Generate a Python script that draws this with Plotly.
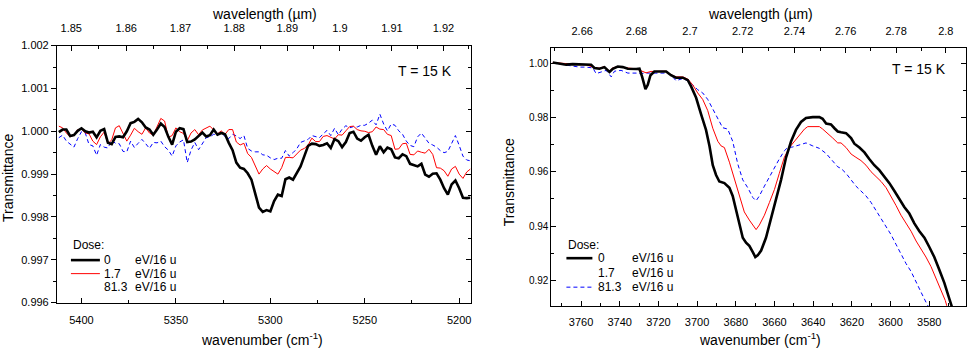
import plotly.graph_objects as go

FONT = "Liberation Sans, Arial, Helvetica, sans-serif"
W, H = 968, 355

# ---------------- left panel : 5413 - 5194 cm-1 ----------------
wn_left = list(range(5412, 5192, -2))

t_left_0 = [
    0.99998, 1.00004, 1.00004, 0.99989, 0.99991, 1.00001, 1.00007, 1.00000, 0.99997, 0.99999,
    0.99986, 1.00001, 1.00005, 0.99973, 0.99970, 0.99987, 0.99988, 0.99986, 1.00000, 1.00019,
    1.00022, 1.00029, 1.00021, 1.00009, 1.00004, 0.99992, 1.00004, 1.00018, 1.00010, 0.99987,
    0.99969, 0.99999, 1.00007, 1.00005, 0.99975, 0.99976, 0.99981, 0.99990, 0.99997, 0.99988,
    0.99991, 1.00004, 0.99992, 0.99996, 0.99993, 0.99973, 0.99956, 0.99927, 0.99915, 0.99912,
    0.99902, 0.99887, 0.99854, 0.99822, 0.99812, 0.99816, 0.99813, 0.99837, 0.99852, 0.99849,
    0.99888, 0.99892, 0.99887, 0.99901, 0.99918, 0.99942, 0.99966, 0.99971, 0.99970, 0.99966,
    0.99968, 0.99972, 0.99961, 0.99982, 0.99977, 0.99963, 0.99975, 0.99996, 0.99999, 0.99983,
    0.99978, 0.99986, 0.99992, 0.99966, 0.99945, 0.99965, 0.99951, 0.99962, 0.99958, 0.99939,
    0.99937, 0.99946, 0.99942, 0.99924, 0.99921, 0.99918, 0.99924, 0.99899, 0.99894, 0.99901,
    0.99902, 0.99887, 0.99867, 0.99852, 0.99876, 0.99885, 0.99867, 0.99845, 0.99844, 0.99845,
]

t_left_17 = [
    1.00012, 1.00008, 0.99996, 0.99987, 0.99991, 1.00004, 1.00005, 0.99996, 0.99994, 0.99977,
    0.99969, 0.99987, 0.99998, 0.99971, 0.99980, 1.00008, 1.00013, 0.99993, 0.99977, 0.99991,
    1.00007, 0.99999, 0.99993, 1.00008, 0.99996, 0.99991, 1.00012, 1.00030, 1.00024, 0.99986,
    0.99990, 1.00008, 0.99999, 0.99995, 0.99978, 0.99996, 1.00004, 0.99992, 1.00003, 1.00007,
    1.00012, 1.00003, 0.99994, 1.00001, 0.99993, 1.00004, 1.00004, 0.99975, 0.99968, 0.99972,
    0.99948, 0.99939, 0.99918, 0.99900, 0.99912, 0.99920, 0.99912, 0.99906, 0.99900, 0.99915,
    0.99939, 0.99939, 0.99938, 0.99947, 0.99956, 0.99960, 0.99968, 0.99984, 0.99976, 0.99976,
    0.99988, 0.99990, 0.99986, 0.99982, 0.99992, 0.99991, 1.00001, 1.00011, 1.00012, 1.00004,
    1.00001, 1.00000, 0.99997, 0.99999, 1.00010, 1.00005, 1.00004, 0.99993, 0.99990, 0.99958,
    0.99959, 0.99971, 0.99972, 0.99946, 0.99945, 0.99954, 0.99951, 0.99949, 0.99958, 0.99946,
    0.99915, 0.99914, 0.99908, 0.99895, 0.99912, 0.99918, 0.99900, 0.99890, 0.99905, 0.99912,
]

t_left_813 = [
    0.99985, 0.99991, 0.99977, 0.99970, 0.99963, 0.99983, 0.99999, 0.99996, 0.99969, 0.99966,
    0.99944, 0.99969, 0.99963, 0.99961, 0.99979, 0.99972, 0.99971, 0.99953, 0.99952, 0.99977,
    0.99962, 0.99972, 0.99981, 0.99971, 0.99960, 0.99974, 0.99973, 0.99977, 0.99964, 0.99956,
    0.99942, 0.99966, 0.99975, 0.99980, 0.99927, 0.99956, 0.99974, 0.99957, 0.99972, 0.99985,
    0.99987, 0.99993, 0.99991, 0.99999, 0.99987, 0.99983, 0.99993, 0.99989, 0.99983, 0.99990,
    0.99960, 0.99954, 0.99952, 0.99952, 0.99945, 0.99944, 0.99938, 0.99934, 0.99937, 0.99937,
    0.99955, 0.99942, 0.99950, 0.99959, 0.99974, 0.99977, 0.99981, 0.99990, 0.99988, 0.99985,
    0.99994, 1.00002, 0.99990, 1.00007, 0.99992, 1.00005, 1.00013, 1.00008, 1.00011, 1.00010,
    1.00014, 1.00014, 1.00019, 1.00026, 1.00015, 1.00040, 1.00017, 1.00001, 1.00017, 1.00014,
    1.00001, 0.99993, 0.99977, 0.99967, 0.99964, 0.99987, 0.99996, 0.99984, 0.99972, 0.99968,
    0.99963, 0.99955, 0.99950, 0.99953, 0.99971, 0.99990, 0.99967, 0.99942, 0.99933, 0.99931,
]

# ---------------- right panel : 3775 - 3561 cm-1 ----------------
wn_right_0 = [
    3774.6, 3771.2, 3767.7, 3764.3, 3760.8, 3757.4, 3754.8, 3753.1, 3750.5, 3747.9,
    3745.3, 3743.6, 3741.0, 3738.4, 3735.8, 3731.5, 3729.8, 3728.4, 3726.7, 3725.5,
    3724.1, 3722.1, 3719.5, 3716.0, 3713.5, 3710.9, 3707.4, 3704.8, 3703.1, 3700.5,
    3698.0, 3695.4, 3693.6, 3691.9, 3690.2, 3688.5, 3685.9, 3683.3, 3681.6, 3679.9,
    3678.1, 3676.4, 3674.7, 3673.0, 3671.2, 3669.9, 3668.7, 3666.9, 3664.4, 3661.8,
    3659.2, 3656.6, 3654.0, 3651.4, 3648.9, 3646.3, 3643.7, 3640.2, 3636.8, 3635.1,
    3633.3, 3630.8, 3629.0, 3627.3, 3625.6, 3623.0, 3620.4, 3618.7, 3616.1, 3613.5,
    3611.0, 3608.4, 3605.8, 3603.2, 3600.6, 3598.0, 3595.4, 3592.9, 3590.3, 3587.7,
    3585.1, 3582.5, 3579.9, 3577.4, 3574.8, 3572.2, 3569.6, 3568.4, 3567.5,
]
t_right_0 = [
    1.0002, 0.9999, 0.9994, 0.9996, 0.9996, 0.9996, 0.9994, 0.9982, 0.9979, 0.9985,
    0.9967, 0.9979, 0.9987, 0.9985, 0.9979, 0.9978, 0.9979, 0.9949, 0.9904, 0.9920,
    0.9955, 0.9969, 0.9970, 0.9969, 0.9955, 0.9946, 0.9946, 0.9937, 0.9914, 0.9872,
    0.9813, 0.9754, 0.9695, 0.9624, 0.9588, 0.9564, 0.9558, 0.9541, 0.9511, 0.9464,
    0.9404, 0.9357, 0.9339, 0.9327, 0.9304, 0.9286, 0.9292, 0.9310, 0.9357, 0.9428,
    0.9499, 0.9570, 0.9653, 0.9712, 0.9754, 0.9783, 0.9798, 0.9801, 0.9801, 0.9795,
    0.9777, 0.9774, 0.9760, 0.9748, 0.9745, 0.9742, 0.9724, 0.9703, 0.9689, 0.9671,
    0.9647, 0.9624, 0.9606, 0.9584, 0.9558, 0.9529, 0.9499, 0.9470, 0.9446, 0.9410,
    0.9381, 0.9357, 0.9322, 0.9286, 0.9239, 0.9191, 0.9132, 0.9108, 0.9085,
]

wn_right_17 = [
    3774.6, 3771.2, 3767.7, 3764.3, 3760.8, 3757.4, 3753.9, 3750.5, 3747.9, 3745.3,
    3743.6, 3741.0, 3736.7, 3731.5, 3729.0, 3726.4, 3723.8, 3719.5, 3716.0, 3713.5,
    3710.9, 3707.4, 3704.8, 3702.3, 3699.7, 3697.1, 3694.5, 3691.9, 3689.3, 3687.6,
    3685.9, 3683.3, 3680.7, 3678.1, 3675.6, 3673.0, 3670.4, 3669.5, 3667.8, 3665.2,
    3662.6, 3660.0, 3657.5, 3654.9, 3652.3, 3649.7, 3647.1, 3644.5, 3642.8, 3636.8,
    3635.1, 3632.5, 3629.9, 3627.3, 3625.6, 3623.0, 3620.4, 3617.9, 3615.3, 3612.7,
    3610.1, 3607.5, 3604.9, 3602.3, 3599.8, 3597.2, 3594.6, 3592.0, 3589.4, 3586.8,
    3584.2, 3581.7, 3579.1, 3576.5, 3573.9, 3571.7, 3571.0, 3570.3,
]
t_right_17 = [
    1.0002, 1.0000, 0.9996, 0.9994, 0.9994, 0.9994, 0.9985, 0.9981, 0.9987, 0.9970,
    0.9982, 0.9987, 0.9982, 0.9979, 0.9973, 0.9964, 0.9969, 0.9970, 0.9970, 0.9957,
    0.9949, 0.9949, 0.9941, 0.9920, 0.9890, 0.9866, 0.9825, 0.9760, 0.9712, 0.9695,
    0.9689, 0.9635, 0.9570, 0.9505, 0.9452, 0.9422, 0.9393, 0.9387, 0.9404, 0.9440,
    0.9487, 0.9535, 0.9594, 0.9653, 0.9689, 0.9712, 0.9736, 0.9757, 0.9766, 0.9766,
    0.9757, 0.9742, 0.9724, 0.9706, 0.9706, 0.9689, 0.9665, 0.9653, 0.9641, 0.9624,
    0.9600, 0.9582, 0.9564, 0.9541, 0.9511, 0.9476, 0.9440, 0.9410, 0.9381, 0.9345,
    0.9316, 0.9286, 0.9251, 0.9209, 0.9168, 0.9126, 0.9108, 0.9088,
]

wn_right_813 = [
    3774.6, 3771.2, 3767.7, 3764.3, 3760.8, 3757.4, 3753.9, 3752.2, 3749.6, 3747.0,
    3744.4, 3742.7, 3739.3, 3735.8, 3731.5, 3729.8, 3726.4, 3722.9, 3719.5, 3715.2,
    3712.6, 3710.9, 3707.4, 3704.8, 3702.3, 3699.7, 3697.1, 3694.5, 3691.9, 3689.3,
    3686.8, 3684.2, 3681.6, 3679.0, 3676.4, 3673.8, 3671.2, 3669.5, 3667.8, 3665.2,
    3662.6, 3660.0, 3657.5, 3654.9, 3653.2, 3650.6, 3647.1, 3643.7, 3640.2, 3636.8,
    3633.3, 3629.9, 3627.3, 3625.6, 3623.0, 3620.4, 3617.9, 3615.3, 3612.7, 3610.1,
    3607.5, 3604.9, 3602.3, 3599.8, 3597.2, 3594.6, 3592.0, 3589.4, 3586.8, 3584.2,
    3581.7, 3580.8, 3580.0,
]
t_right_813 = [
    1.0000, 0.9996, 0.9991, 0.9987, 0.9985, 0.9985, 0.9982, 0.9961, 0.9967, 0.9973,
    0.9949, 0.9970, 0.9973, 0.9963, 0.9963, 0.9961, 0.9963, 0.9963, 0.9963, 0.9963,
    0.9949, 0.9935, 0.9943, 0.9935, 0.9920, 0.9902, 0.9890, 0.9866, 0.9831, 0.9795,
    0.9762, 0.9757, 0.9712, 0.9629, 0.9570, 0.9541, 0.9505, 0.9493, 0.9511, 0.9547,
    0.9582, 0.9618, 0.9647, 0.9677, 0.9689, 0.9691, 0.9700, 0.9706, 0.9695, 0.9686,
    0.9667, 0.9641, 0.9618, 0.9612, 0.9594, 0.9570, 0.9547, 0.9529, 0.9511, 0.9487,
    0.9458, 0.9428, 0.9399, 0.9369, 0.9333, 0.9298, 0.9262, 0.9233, 0.9197, 0.9156,
    0.9120, 0.9108, 0.9090,
]

# wavelength ticks of the top axes (µm)
um_left = [1.85, 1.86, 1.87, 1.88, 1.89, 1.90, 1.91, 1.92]
um_left_minor = [1.855, 1.865, 1.875, 1.885, 1.895, 1.905, 1.915, 1.925]
um_right = [2.66, 2.68, 2.70, 2.72, 2.74, 2.76, 2.78, 2.80]
um_right_minor = [2.65, 2.67, 2.69, 2.71, 2.73, 2.75, 2.77, 2.79]

dose_values = ["0", "1.7", "81.3"]
dose_unit = "eV/16 u"
temp_label = "T = 15 K"

BLACK = dict(color="black", width=2.6)
RED = dict(color="#ff0000", width=1)
BLUE = dict(color="#0000ff", width=1, dash="4px,3px")


def px(x):
    return x / W


def py(y):
    return 1 - y / H


fig = go.Figure()

# --- curves ---
fig.add_trace(go.Scatter(x=wn_left, y=t_left_813, mode="lines", line=BLUE, xaxis="x", yaxis="y"))
fig.add_trace(go.Scatter(x=wn_left, y=t_left_17, mode="lines", line=RED, xaxis="x", yaxis="y"))
fig.add_trace(go.Scatter(x=wn_left, y=t_left_0, mode="lines", line=BLACK, xaxis="x", yaxis="y"))

fig.add_trace(go.Scatter(x=wn_right_813, y=t_right_813, mode="lines", line=BLUE, xaxis="x2", yaxis="y2"))
fig.add_trace(go.Scatter(x=wn_right_17, y=t_right_17, mode="lines", line=RED, xaxis="x2", yaxis="y2"))
fig.add_trace(go.Scatter(x=wn_right_0, y=t_right_0, mode="lines", line=BLACK, xaxis="x2", yaxis="y2"))

# invisible copies so that the secondary (top / right) axes get drawn
for xa, ya, xs, ys in [("x3", "y", wn_left, t_left_0), ("x", "y3", wn_left, t_left_0),
                       ("x4", "y2", wn_right_0, t_right_0)]:
    fig.add_trace(go.Scatter(x=xs, y=ys, mode="lines", opacity=0, hoverinfo="skip",
                             line=dict(width=0), xaxis=xa, yaxis=ya))

axis_base = dict(
    showline=True, linecolor="black", linewidth=1, showgrid=False, zeroline=False,
    tickcolor="black", tickwidth=1, ticklen=5,
    tickfont=dict(family=FONT, size=11, color="black"),
)

dom_left = [px(57), px(471)]
dom_right = [px(552), px(967)]
ydom_left = [py(307), py(41)]
ydom_right = [py(311), py(43)]
xr_left = [5413, 5194]
xr_right = [3775.3, 3561]
yr_left = [0.996, 1.002]
yr_right = [0.9104, 1.0057]

fig.update_layout(
    xaxis=dict(axis_base, domain=dom_left, range=xr_left, anchor="y", ticks="inside",
               tick0=5200, dtick=50, ticklabelstandoff=7,
               minor=dict(dtick=25, ticks="inside", ticklen=3, tickcolor="black")),
    yaxis=dict(axis_base, domain=ydom_left, range=yr_left, anchor="x", ticks="outside",
               dtick=0.001, tickformat=".3f",
               minor=dict(dtick=0.0005, ticks="outside", ticklen=3, tickcolor="black")),
    yaxis3=dict(axis_base, overlaying="y", side="right", anchor="x", range=yr_left,
                ticks="inside", dtick=0.001, showticklabels=False,
                minor=dict(dtick=0.0005, ticks="inside", ticklen=3, tickcolor="black")),
    xaxis3=dict(axis_base, overlaying="x", side="top", anchor="y", range=xr_left,
                ticks="inside", tickmode="array",
                tickvals=[1e4 / v for v in um_left], ticktext=[f"{v:g}" for v in um_left],
                ticklabelstandoff=8,
                minor=dict(tickmode="array", tickvals=[1e4 / v for v in um_left_minor],
                           ticks="inside", ticklen=3, tickcolor="black")),
    xaxis2=dict(axis_base, domain=dom_right, range=xr_right, anchor="y2", ticks="inside",
                tick0=3500, dtick=20, ticklabelstandoff=5,
                minor=dict(dtick=10, ticks="inside", ticklen=3, tickcolor="black")),
    yaxis2=dict(axis_base, domain=ydom_right, range=yr_right, anchor="x2", ticks="inside",
                mirror="ticks", dtick=0.02, tickformat=".2f",
                tickfont=dict(family=FONT, size=10, color="black"),
                minor=dict(dtick=0.01, ticks="inside", ticklen=3, tickcolor="black")),
    xaxis4=dict(axis_base, overlaying="x2", side="top", anchor="y2", range=xr_right,
                ticks="inside", tickmode="array",
                tickvals=[1e4 / v for v in um_right], ticktext=[f"{v:g}" for v in um_right],
                ticklabelstandoff=7,
                minor=dict(tickmode="array", tickvals=[1e4 / v for v in um_right_minor],
                           ticks="inside", ticklen=3, tickcolor="black")),
)

# --- titles and labels ---
annots = []


def label(text, x, y, size=14, angle=0, anchor="center"):
    annots.append(dict(text=text, x=px(x), y=py(y), xref="paper", yref="paper",
                       xanchor=anchor, yanchor="middle", showarrow=False, textangle=angle,
                       font=dict(family=FONT, size=size, color="black")))


label("wavelength (µm)", 265, 8)
label("wavelength (µm)", 761, 8)
label("wavenumber (cm<sup>-1</sup>)", 262, 345)
label("wavenumber (cm<sup>-1</sup>)", 761, 345)
label("Transmittance", 8, 178, angle=-90)
label("Transmittance", 509, 182, angle=-90)
label(temp_label, 425, 67)
label(temp_label, 920, 65)

# --- hand made legends ---
shapes = []
legends = [
    dict(x0=71, x1=100, xn=102, xu=133, ydose=247, rows=[263, 277, 291], styles=[BLACK, RED, None]),
    dict(x0=567, x1=593, xn=597, xu=631, ydose=247, rows=[261, 276, 291], styles=[BLACK, None, BLUE]),
]
for lg in legends:
    label("Dose:", lg["x0"], lg["ydose"], size=12, anchor="left")
    for val, yrow, st in zip(dose_values, lg["rows"], lg["styles"]):
        label(val, lg["xn"], yrow, size=12, anchor="left")
        label(dose_unit, lg["xu"], yrow, size=12, anchor="left")
        if st is not None:
            shapes.append(dict(type="line", xref="paper", yref="paper",
                               x0=px(lg["x0"]), x1=px(lg["x1"]), y0=py(yrow), y1=py(yrow),
                               line=st))

fig.update_layout(
    annotations=annots,
    shapes=shapes,
    width=W, height=H,
    margin=dict(l=0, r=0, t=0, b=0),
    paper_bgcolor="white",
    plot_bgcolor="white",
    showlegend=False,
    font=dict(family=FONT, color="black"),
)

# the page body has a default 8px margin; remove it so the figure fills the window
fig.write_html("out.html", config={"displayModeBar": False},
               post_script="document.body.style.margin='0';")
